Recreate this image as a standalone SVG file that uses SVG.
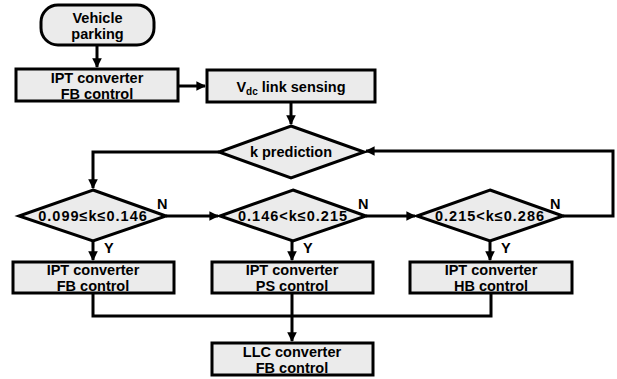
<svg xmlns="http://www.w3.org/2000/svg" width="617" height="379" viewBox="0 0 617 379">
<style>
.n{fill:#ebebeb;stroke:#000;stroke-width:3}
.t{font-family:"Liberation Sans",Arial,sans-serif;font-weight:bold;font-size:14.5px;fill:#000;text-anchor:middle}
.d{font-family:"Liberation Sans",Arial,sans-serif;font-weight:bold;font-size:14.5px;fill:#000;text-anchor:middle;letter-spacing:1px}
.l{font-family:"Liberation Sans",Arial,sans-serif;font-weight:bold;font-size:14.5px;fill:#000}
.c{fill:none;stroke:#000;stroke-width:3}
</style>
<defs>
<marker id="a" viewBox="0 0 10 10" refX="9" refY="5" markerWidth="3.2" markerHeight="3.2" orient="auto" markerUnits="strokeWidth">
<path d="M0,0 L10,5 L0,10 z" fill="#000"/>
</marker>
</defs>
<g id="connectors">
<path class="c" d="M97,45 V67" marker-end="url(#a)"/>
<path class="c" d="M178,86 H205" marker-end="url(#a)"/>
<path class="c" d="M291,102 V124" marker-end="url(#a)"/>
<path class="c" d="M219,152 H93 V188" marker-end="url(#a)"/>
<path class="c" d="M166,216 H218" marker-end="url(#a)"/>
<path class="c" d="M366,216 H415" marker-end="url(#a)"/>
<path class="c" d="M563,216 H613 V151 H366" marker-end="url(#a)"/>
<path class="c" d="M93,241 V260" marker-end="url(#a)"/>
<path class="c" d="M292,241 V260" marker-end="url(#a)"/>
<path class="c" d="M490,241 V260" marker-end="url(#a)"/>
<path class="c" d="M93,293 V316 H491 V293"/>
<path class="c" d="M292,293 V341" marker-end="url(#a)"/>
</g>
<g id="vehicle_parking">
<rect class="n" x="41" y="5" width="113" height="40" rx="17"/>
<text class="t" x="97.5" y="23">Vehicle</text>
<text class="t" x="97.5" y="39">parking</text>
</g>
<g id="ipt_fb_top">
<rect class="n" x="16" y="69" width="162" height="32"/>
<text class="t" x="97" y="83">IPT converter</text>
<text class="t" x="97" y="99">FB control</text>
</g>
<g id="vdc_sensing">
<rect class="n" x="207" y="70" width="168" height="32"/>
<text class="t" x="291" y="92">V<tspan font-size="10" dy="3">dc</tspan><tspan dy="-3"> link sensing</tspan></text>
</g>
<g id="k_prediction">
<polygon class="n" points="291,126 364,152 291,178 219,152"/>
<text class="t" x="291" y="157">k prediction</text>
</g>
<g id="cond1">
<polygon class="n" points="93,190 166,216 93,241 19,216"/>
<text class="d" x="93" y="221">0.099≤k≤0.146</text>
<text class="l" x="157" y="209">N</text>
<text class="l" x="104" y="253">Y</text>
</g>
<g id="cond2">
<polygon class="n" points="293,190 366,216 293,241 220,216"/>
<text class="d" x="293" y="221">0.146&lt;k≤0.215</text>
<text class="l" x="358" y="209">N</text>
<text class="l" x="303" y="253">Y</text>
</g>
<g id="cond3">
<polygon class="n" points="490,190 563,216 490,241 417,216"/>
<text class="d" x="490" y="221">0.215&lt;k≤0.286</text>
<text class="l" x="550" y="209">N</text>
<text class="l" x="501" y="253">Y</text>
</g>
<g id="ipt_fb">
<rect class="n" x="13" y="262" width="161" height="31"/>
<text class="t" x="93" y="275">IPT converter</text>
<text class="t" x="93" y="291">FB control</text>
</g>
<g id="ipt_ps">
<rect class="n" x="212" y="262" width="161" height="31"/>
<text class="t" x="292" y="275">IPT converter</text>
<text class="t" x="292" y="291">PS control</text>
</g>
<g id="ipt_hb">
<rect class="n" x="410" y="262" width="162" height="31"/>
<text class="t" x="491" y="275">IPT converter</text>
<text class="t" x="491" y="291">HB control</text>
</g>
<g id="llc_fb">
<rect class="n" x="212" y="343" width="161" height="32"/>
<text class="t" x="292" y="357">LLC converter</text>
<text class="t" x="292" y="373">FB control</text>
</g>
</svg>
